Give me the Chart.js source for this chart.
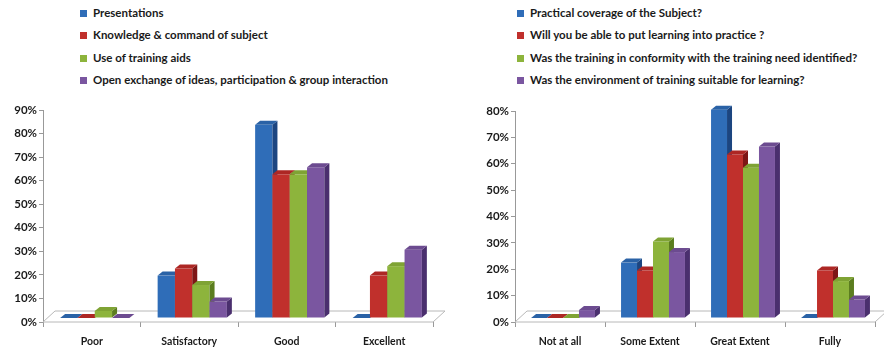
<!DOCTYPE html>
<html>
<head>
<meta charset="utf-8">
<script src="https://cdn.jsdelivr.net/npm/chart.js@4.4.1/dist/chart.umd.min.js"></script>
<style>
  body { margin: 0; background: #fff; width: 884px; height: 352px; position: relative; overflow: hidden; font-family: Lato, "Open Sans", sans-serif; }
  .legend { position: absolute; top: 4px; font-weight: bold; font-size: 11.5px; color: #1a1a1a; }
  .legend div { height: 22.3px; line-height: 18px; white-space: nowrap; }
  .legend span { display: inline-block; width: 7px; height: 7px; margin-right: 6px; vertical-align: 0px; }
  .wrap { position: absolute; top: 95px; height: 257px; }
</style>
</head>
<body>
<div class="legend" id="legendLeft" style="left:80px"></div>
<div class="legend" id="legendRight" style="left:517px"></div>
<div class="wrap" style="left:0; width:450px"><canvas id="chartLeft"></canvas></div>
<div class="wrap" style="left:450px; width:434px"><canvas id="chartRight"></canvas></div>
<script>
// left chart
const leftCategories = ['Poor', 'Satisfactory', 'Good', 'Excellent'];
const leftSeries = [
  'Presentations',
  'Knowledge & command of subject',
  'Use of training aids',
  'Open exchange of ideas, participation & group interaction'
];
const presentations = [0, 18, 82, 0];
const knowledge = [0, 21, 61, 18];
const trainingAids = [3, 14, 61, 22];
const openExchange = [0, 7, 64, 29];

// right chart
const rightCategories = ['Not at all', 'Some Extent', 'Great Extent', 'Fully'];
const rightSeries = [
  'Practical coverage of the Subject?',
  'Will you be able to put learning into practice  ?',
  'Was the training  in conformity with the training need identified?',
  'Was the environment of training suitable for learning?'
];
const practicalCoverage = [0, 21, 79, 0];
const putIntoPractice = [0, 18, 62, 18];
const conformity = [0, 29, 57, 14];
const environment = [3, 25, 65, 7];

const frontColors = ['#2f6db8', '#c0302c', '#8db43c', '#7a56a0'];
const sideColors = ['#1c4580', '#7e1616', '#5b7d1f', '#4a2f6e'];
const topColors = ['#2a62a6', '#ad2724', '#7fa334', '#6c4b90'];

const DX = 5, DY = 4;   // bar depth
const SHIFT_X = 3, SHIFT_Y = 4;  // bars sit in middle of floor

const depth3d = {
  id: 'depth3d',
  beforeDatasetDraw() {
    return false; // the plugin draws the bars itself
  },
  beforeDatasetsDraw(chart) {
    const ctx = chart.ctx;
    const area = chart.chartArea;
    const y0 = chart.scales.y.getPixelForValue(0);
    ctx.save();
    ctx.strokeStyle = '#b8b8b8';
    ctx.fillStyle = '#ffffff';
    ctx.lineWidth = 1;
    ctx.beginPath();
    ctx.moveTo(area.left, y0);
    ctx.lineTo(area.right, y0);
    ctx.lineTo(area.right + 12, y0 - 11);
    ctx.lineTo(area.left + 12, y0 - 11);
    ctx.closePath();
    ctx.fill();
    ctx.stroke();
    ctx.restore();
  },
  afterDatasetsDraw(chart) {
    const ctx = chart.ctx;
    const n = chart.data.labels.length;
    ctx.save();
    for (let j = 0; j < n; j++) {
      chart.data.datasets.forEach((ds, i) => {
        const bar = chart.getDatasetMeta(i).data[j];
        const p = bar.getProps(['x', 'y', 'base', 'width'], true);
        const l = p.x - p.width / 2 + SHIFT_X, r = p.x + p.width / 2 + SHIFT_X;
        const top = p.y - SHIFT_Y, base = p.base - SHIFT_Y;
        ctx.fillStyle = frontColors[i];
        ctx.fillRect(l, top, r - l, base - top);
        ctx.fillStyle = sideColors[i];
        ctx.beginPath();
        ctx.moveTo(r, top); ctx.lineTo(r + DX, top - DY);
        ctx.lineTo(r + DX, base - DY); ctx.lineTo(r, base);
        ctx.closePath(); ctx.fill();
        ctx.fillStyle = topColors[i];
        ctx.beginPath();
        ctx.moveTo(l, top); ctx.lineTo(l + DX, top - DY);
        ctx.lineTo(r + DX, top - DY); ctx.lineTo(r, top);
        ctx.closePath(); ctx.fill();
      });
    }
    ctx.restore();
  }
};

function buildLegend(id, names) {
  const el = document.getElementById(id);
  names.forEach((name, i) => {
    const row = document.createElement('div');
    const sw = document.createElement('span');
    sw.style.background = frontColors[i];
    row.appendChild(sw);
    row.appendChild(document.createTextNode(name));
    el.appendChild(row);
  });
}

function makeChart(canvasId, labels, names, values, maxY, padding) {
  const ctx = document.getElementById(canvasId).getContext('2d');
  return new Chart(ctx, {
    type: 'bar',
    data: {
      labels: labels,
      datasets: values.map((v, i) => ({
        label: names[i],
        data: v,
        backgroundColor: frontColors[i],
        barPercentage: 1,
        categoryPercentage: 0.71
      }))
    },
    options: {
      responsive: true,
      maintainAspectRatio: false,
      animation: false,
      layout: { padding: padding },
      plugins: {
        legend: { display: false },
        tooltip: { enabled: false }
      },
      scales: {
        x: {
          grid: { drawOnChartArea: false, offset: true, tickLength: 5, color: '#999' },
          border: { display: false },
          ticks: {
            color: '#1a1a1a',
            padding: 8,
            font: { family: 'Lato', weight: 'bold', size: 10.5 }
          },
          afterFit: function(scale) { scale.height = 30; }
        },
        y: {
          min: 0,
          max: maxY,
          grid: { drawOnChartArea: false, tickLength: 4, color: '#999' },
          border: { display: true, color: '#999' },
          ticks: {
            stepSize: 10,
            padding: 2,
            color: '#1a1a1a',
            font: { family: 'Lato', weight: 'bold', size: 11.5 },
            callback: function(value) { return value + '%'; }
          },
          afterFit: function(scale) { scale.width = 33; }
        }
      }
    },
    plugins: [depth3d]
  });
}

buildLegend('legendLeft', leftSeries);
buildLegend('legendRight', rightSeries);

makeChart('chartLeft', leftCategories, leftSeries,
  [presentations, knowledge, trainingAids, openExchange], 90,
  { left: 10, right: 17, top: 15, bottom: 0 });
makeChart('chartRight', rightCategories, rightSeries,
  [practicalCoverage, putIntoPractice, conformity, environment], 80,
  { left: 32, right: 9, top: 16, bottom: 0 });
</script>
</body>
</html>
